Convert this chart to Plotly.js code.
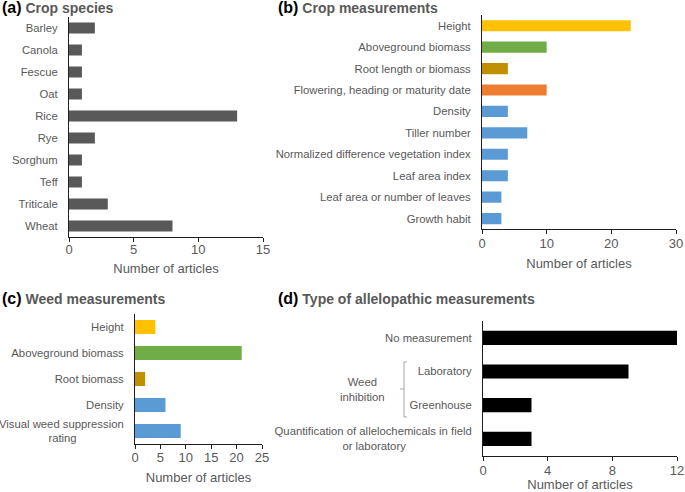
<!DOCTYPE html>
<html>
<head>
<meta charset="utf-8">
<script src="https://cdn.plot.ly/plotly-3.0.1.min.js"></script>
<style>html,body{margin:0;padding:0;background:#fff}#chart{width:685px;height:492px}</style>
</head>
<body>
<div id="chart"></div>
<script>
// ---- data ----
const cropSpecies = ["Barley","Canola","Fescue","Oat","Rice","Rye","Sorghum","Teff","Triticale","Wheat"];
const cropSpeciesCounts = [2,1,1,1,13,2,1,1,3,8];

const cropMeasures = ["Height","Aboveground biomass","Root length or biomass","Flowering, heading or maturity date","Density","Tiller number","Normalized difference vegetation index","Leaf area index","Leaf area or number of leaves","Growth habit"];
const cropMeasureCounts = [23,10,4,10,4,7,4,4,3,3];

const weedMeasures = ["Height","Aboveground biomass","Root biomass","Density","Visual weed suppression rating"];
const weedMeasureCounts = [4,21,2,6,9];

const alleloTypes = ["No measurement","Laboratory","Greenhouse","Quantification of allelochemicals in field or laboratory"];
const alleloCounts = [12,9,3,3];

// ---- styles ----
const GRAY = "#595959";
const AXIS = "#1f1f1f";
const FONT = "Liberation Sans, Arial, sans-serif";
const YELLOW = "#FFC000", GREEN = "#70AD47", GOLD = "#BF9000", ORANGE = "#ED7D31", BLUE = "#5B9BD5";
const cropMeasureColors = [YELLOW, GREEN, GOLD, ORANGE, BLUE, BLUE, BLUE, BLUE, BLUE, BLUE];
const weedMeasureColors = [YELLOW, GREEN, GOLD, BLUE, BLUE];

const W = 685, H = 492;
const px = v => v / W;
const py = v => 1 - v / H;

// tick text with centred second line (pad with non-breaking spaces)
const nb = n => "\u00A0".repeat(n);
const wrapLabel = {
  "Visual weed suppression rating": "Visual weed suppression<br>rating" + nb(15),
  "Quantification of allelochemicals in field or laboratory": "Quantification of allelochemicals in field<br>or laboratory" + nb(21)
};
const tickText = arr => arr.map(s => wrapLabel[s] || s);

function bar(y, x, xa, ya, color, width) {
  return {type: "bar", orientation: "h", y: y, x: x, xaxis: xa, yaxis: ya,
          marker: {color: color, line: {width: 0}}, width: width, hoverinfo: "x+y"};
}

const data = [
  bar(cropSpecies, cropSpeciesCounts, "x", "y", GRAY, 0.5),
  bar(cropMeasures, cropMeasureCounts, "x2", "y2", cropMeasureColors, 0.52),
  bar(weedMeasures, weedMeasureCounts, "x3", "y3", weedMeasureColors, 0.54),
  bar(alleloTypes, alleloCounts, "x4", "y4", "#000000", 0.42)
];

function xax(domain, range, dtick, anchor, lblOff, titleOff) {
  return {domain: domain, range: range, dtick: dtick, anchor: anchor,
    showline: true, linecolor: AXIS, linewidth: 1, ticks: "outside", ticklen: 4, tickcolor: AXIS,
    ticklabelstandoff: lblOff,
    showgrid: false, zeroline: false, fixedrange: true,
    tickfont: {family: FONT, size: 13, color: GRAY},
    title: {text: "Number of articles", font: {family: FONT, size: 13, color: GRAY}, standoff: titleOff}};
}
function yax(domain, cats, anchor) {
  return {domain: domain, type: "category", categoryorder: "array", categoryarray: cats,
    range: [cats.length - 0.5, -0.5], anchor: anchor,
    tickmode: "array", tickvals: cats, ticktext: tickText(cats),
    showline: true, linecolor: AXIS, linewidth: 1, ticks: "", ticklabelstandoff: 8,
    showgrid: false, zeroline: false, fixedrange: true,
    tickfont: {family: FONT, size: 11.3, color: GRAY}};
}

function panelTitle(letter, text, x, y) {
  return {xref: "paper", yref: "paper", x: px(x), y: py(y), xanchor: "left", yanchor: "middle",
    showarrow: false, align: "left",
    text: "<b><span style='font-size:16px;color:#000'>(" + letter + ")</span> <span style='color:" + GRAY + "'>" + text + "</span></b>",
    font: {family: FONT, size: 14, color: GRAY}};
}

function seg(x0, y0, x1, y1) {
  return {type: "line", xref: "paper", yref: "paper", x0: px(x0), y0: py(y0), x1: px(x1), y1: py(y1),
    line: {color: "#a6a6a6", width: 1}};
}

const layout = {
  width: W, height: H,
  margin: {l: 0, r: 0, t: 0, b: 0},
  paper_bgcolor: "#ffffff", plot_bgcolor: "#ffffff",
  showlegend: false,
  font: {family: FONT, color: GRAY},
  xaxis:  xax([px(69), px(263)], [0, 15], 5, "y", -4, 8),
  yaxis:  yax([py(237), py(17)], cropSpecies, "x"),
  xaxis2: xax([px(482), px(676)], [0, 30], 10, "y2", -2, 8),
  yaxis2: yax([py(229.3), py(15)], cropMeasures, "x2"),
  xaxis3: xax([px(135), px(262)], [0, 25], 5, "y3", -3, 9),
  yaxis3: yax([py(444), py(314)], weedMeasures, "x3"),
  xaxis4: xax([px(483), px(677)], [0, 12], 4, "y4", -1, 6),
  yaxis4: yax([py(455.7), py(321)], alleloTypes, "x4"),
  annotations: [
    panelTitle("a", "Crop species", 0, 7),
    panelTitle("b", "Crop measurements", 276, 7),
    panelTitle("c", "Weed measurements", 0, 298),
    panelTitle("d", "Type of allelopathic measurements", 276, 298),
    {xref: "paper", yref: "paper", x: px(362), y: py(389), xanchor: "center", yanchor: "middle",
     showarrow: false, align: "center", text: "Weed<br>inhibition",
     font: {family: FONT, size: 11.3, color: GRAY}}
  ],
  shapes: [
    seg(404, 362, 404, 417),
    seg(404, 362, 407, 362),
    seg(404, 417, 407, 417),
    seg(400, 389, 404, 389)
  ]
};

Plotly.newPlot("chart", data, layout, {displayModeBar: false, staticPlot: true});
</script>
</body>
</html>
